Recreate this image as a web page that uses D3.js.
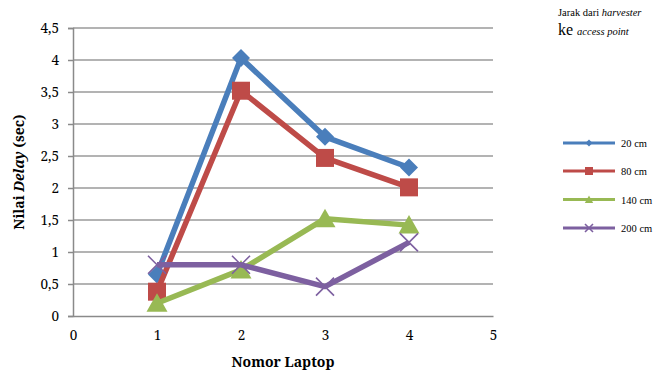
<!DOCTYPE html>
<html>
<head>
<meta charset="utf-8">
<script src="https://cdn.jsdelivr.net/npm/d3@7"></script>
<style>
  html, body { margin: 0; padding: 0; background: #fff; }
  svg { display: block; }
  .legend-text { font-family: "Liberation Serif", "Times New Roman", serif; }
</style>
</head>
<body>
<svg id="chart" width="655" height="372"></svg>
<script>
// Delay measurements per laptop for each harvester distance
const laptops = [1, 2, 3, 4];
const series = [
  { name: "20 cm",  color: "#4A7EBB", symbol: "diamond",  values: [0.65, 4.03, 2.80, 2.32] },
  { name: "80 cm",  color: "#BE4B48", symbol: "square",   values: [0.38, 3.52, 2.47, 2.01] },
  { name: "140 cm", color: "#98B954", symbol: "triangle", values: [0.20, 0.72, 1.52, 1.42] },
  { name: "200 cm", color: "#7D60A0", symbol: "cross",    values: [0.80, 0.80, 0.46, 1.15] }
];
const xTicks = [0, 1, 2, 3, 4, 5];
const yTicks = [0, 0.5, 1, 1.5, 2, 2.5, 3, 3.5, 4, 4.5];
const yTickLabels = ["0", "0,5", "1", "1,5", "2", "2,5", "3", "3,5", "4", "4,5"];

const svg = d3.select("#chart");
const tickFont = "Noto Serif, DejaVu Serif, serif";

const x = d3.scaleLinear().domain([0, 5]).range([73, 493]);
const y = d3.scaleLinear().domain([0, 4.5]).range([316, 28]);

// Horizontal gridlines
svg.append("g").selectAll("line")
  .data(yTicks.filter(v => v > 0))
  .join("line")
  .attr("x1", x(0)).attr("x2", x(5))
  .attr("y1", d => y(d)).attr("y2", d => y(d))
  .attr("stroke", "#9a9a9a").attr("stroke-width", 1.5);

// Y axis
const yAxis = svg.append("g")
  .attr("transform", `translate(${x(0)},0)`)
  .call(d3.axisLeft(y).tickValues(yTicks).tickSize(5).tickPadding(9)
    .tickFormat((d, i) => yTickLabels[i]));
yAxis.select(".domain").attr("stroke", "#8a8a8a").attr("stroke-width", 1.5);
yAxis.selectAll(".tick line").attr("stroke", "#8a8a8a").attr("stroke-width", 1.5);
yAxis.selectAll("text").attr("font-family", tickFont).attr("font-size", 13.5).attr("fill", "#000");

// X axis
const xAxis = svg.append("g")
  .attr("transform", `translate(0,${y(0)})`)
  .call(d3.axisBottom(x).tickValues(xTicks).tickSize(0).tickPadding(14)
    .tickFormat(d3.format("d")));
xAxis.select(".domain").attr("stroke", "#8a8a8a").attr("stroke-width", 1.5);
xAxis.selectAll("text").attr("font-family", tickFont).attr("font-size", 13.5).attr("fill", "#000");

// Marker shapes
function marker(g, symbol, color, s) {
  if (symbol === "diamond") {
    g.append("path").attr("d", `M0,${-s}L${s},0L0,${s}L${-s},0Z`).attr("fill", color);
  } else if (symbol === "square") {
    g.append("rect").attr("x", -s).attr("y", -s).attr("width", 2 * s).attr("height", 2 * s).attr("fill", color);
  } else if (symbol === "triangle") {
    g.append("path").attr("d", `M0,${-s}L${s * 1.05},${s * 0.85}L${-s * 1.05},${s * 0.85}Z`).attr("fill", color);
  } else {
    g.append("path").attr("d", `M${-s},${-s}L${s},${s}M${s},${-s}L${-s},${s}`)
      .attr("stroke", color).attr("stroke-width", 1.6).attr("fill", "none");
  }
}
const markerSize = { diamond: 9, square: 9, triangle: 10, cross: 9 };

const line = d3.line().x((d, i) => x(laptops[i])).y(d => y(d));

series.forEach(s => {
  const g = svg.append("g");
  g.append("path")
    .attr("d", line(s.values))
    .attr("fill", "none")
    .attr("stroke", s.color)
    .attr("stroke-width", 5.5)
    .attr("stroke-linejoin", "round");
  s.values.forEach((v, i) => {
    const m = g.append("g").attr("transform", `translate(${x(laptops[i])},${y(v)})`);
    marker(m, s.symbol, s.color, markerSize[s.symbol]);
  });
});

// Axis titles
svg.append("text")
  .attr("x", 283).attr("y", 367)
  .attr("text-anchor", "middle")
  .attr("font-family", tickFont).attr("font-weight", "bold").attr("font-size", 14)
  .text("Nomor Laptop");

const yTitle = svg.append("text")
  .attr("transform", "translate(24,172) rotate(-90)")
  .attr("text-anchor", "middle")
  .attr("font-family", tickFont).attr("font-weight", "bold").attr("font-size", 14);
yTitle.append("tspan").text("Nilai ");
yTitle.append("tspan").attr("font-style", "italic").text("Delay");
yTitle.append("tspan").text(" (sec)");

// Legend
const lt1 = svg.append("text").attr("class", "legend-text").attr("x", 558).attr("y", 16)
  .attr("font-size", 10.5);
lt1.append("tspan").text("Jarak dari ");
lt1.append("tspan").attr("font-style", "italic").text("harvester");
const lt2 = svg.append("text").attr("class", "legend-text").attr("x", 558).attr("y", 35);
lt2.append("tspan").attr("font-size", 16).text("ke ");
lt2.append("tspan").attr("font-size", 10.5).attr("font-style", "italic").text("access point");

const legendY = [143, 171, 199.5, 228];
series.forEach((s, i) => {
  const g = svg.append("g").attr("transform", `translate(0,${legendY[i]})`);
  g.append("line").attr("x1", 563).attr("x2", 615).attr("y1", 0).attr("y2", 0)
    .attr("stroke", s.color).attr("stroke-width", 3);
  const m = g.append("g").attr("transform", "translate(589,0)");
  marker(m, s.symbol, s.color, s.symbol === "diamond" ? 3.5 : 4);
  g.append("text").attr("class", "legend-text").attr("x", 621).attr("y", 4)
    .attr("font-size", 10.5)
    .text(s.name);
});
</script>
</body>
</html>
